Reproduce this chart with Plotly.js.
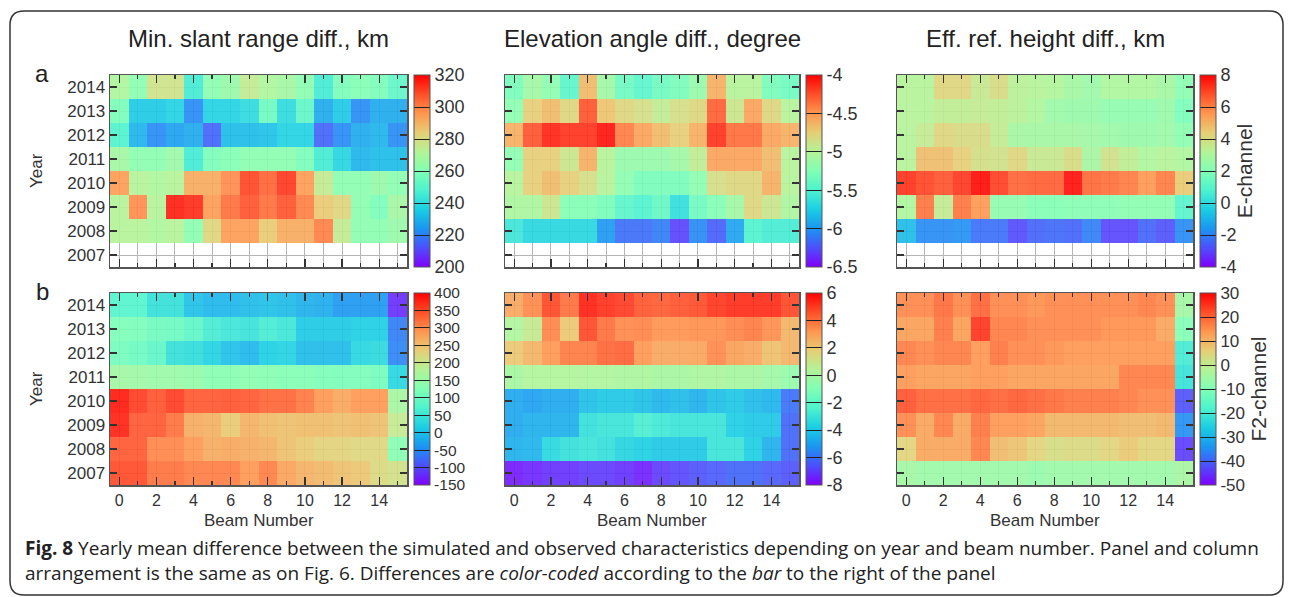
<!DOCTYPE html>
<html><head><meta charset="utf-8">
<script src="https://cdn.plot.ly/plotly-3.0.1.min.js"></script>
<style>html,body{margin:0;padding:0;background:#fff}#chart{width:1290px;height:597px}</style>
</head><body><div id="chart"></div>
<script>
// ---------- data ----------
const beams = [0,1,2,3,4,5,6,7,8,9,10,11,12,13,14,15];
const years = [2007,2008,2009,2010,2011,2012,2013,2014];
const beamTicks = [0,2,4,6,8,10,12,14];

const colTitles = ["Min. slant range diff., km", "Elevation angle diff., degree", "Eff. ref. height diff., km"];
const rowLabels = ["a", "b"];
const channelNames = ["E-channel", "F2-channel"];

// row a (E-channel), rows ordered 2007..2014
const slantE = [
  [null,null,null,null,null,null,null,null,null,null,null,null,null,null,null,null],
  [272,272,270,272,262,282,295,295,285,292,292,300,275,262,262,265],
  [272,298,272,316,314,295,303,308,303,308,300,285,282,262,258,268],
  [295,272,270,272,292,292,298,310,305,312,295,275,262,262,265,262],
  [268,262,262,266,245,258,260,262,262,262,258,245,238,230,232,232],
  [248,230,222,226,228,215,232,232,233,237,237,215,222,228,230,222],
  [258,235,235,237,222,237,237,240,255,240,252,228,235,222,228,228],
  [270,262,278,278,245,262,265,275,270,268,262,245,258,260,258,252]
];
const elevE = [
  [null,null,null,null,null,null,null,null,null,null,null,null,null,null,null,null],
  [-5.6,-5.7,-5.7,-5.7,-5.7,-6.0,-6.15,-6.15,-6.1,-6.3,-6.05,-6.2,-5.95,-5.5,-5.55,-5.55],
  [-5.05,-5.05,-4.9,-5.25,-5.25,-5.3,-5.45,-5.5,-5.4,-5.65,-5.35,-5.25,-5.1,-4.8,-4.9,-5.05],
  [-5.0,-4.75,-4.65,-4.75,-4.85,-5.0,-5.2,-5.3,-5.3,-5.3,-5.2,-4.85,-4.8,-4.8,-4.6,-5.0],
  [-5.2,-4.75,-4.75,-4.9,-4.6,-5.0,-5.15,-5.15,-5.15,-5.1,-4.95,-4.55,-4.55,-4.55,-4.65,-5.0],
  [-4.6,-4.25,-4.1,-4.15,-4.15,-4.05,-4.4,-4.55,-4.65,-4.75,-4.6,-4.15,-4.35,-4.35,-4.55,-4.6],
  [-5.2,-4.75,-4.65,-4.8,-4.25,-4.7,-4.8,-4.85,-4.95,-4.85,-4.8,-4.3,-4.9,-4.55,-4.8,-5.0],
  [-5.3,-5.1,-5.2,-5.45,-4.65,-5.1,-5.35,-5.45,-5.35,-5.3,-5.15,-4.6,-5.0,-5.0,-5.3,-5.35]
];
const heightE = [
  [null,null,null,null,null,null,null,null,null,null,null,null,null,null,null,null],
  [-0.8,-1.8,-1.8,-1.7,-2.3,-2.3,-2.9,-2.5,-2.4,-2.5,-2.0,-3.0,-3.0,-2.5,-2.8,-1.8],
  [3.0,6.2,3.5,6.2,5.6,2.3,2.3,2.0,2.0,2.1,2.1,2.1,2.2,2.2,2.2,1.0],
  [7.3,7.0,6.8,7.2,7.9,7.1,6.5,6.6,6.6,7.8,6.4,6.3,6.1,5.6,6.1,4.5],
  [3.2,4.8,4.8,4.4,3.9,3.8,4.2,3.6,3.6,4.0,2.9,3.8,3.4,3.0,3.2,3.0],
  [3.2,3.5,4.2,4.0,4.0,3.5,2.8,2.8,2.8,2.8,2.7,2.6,2.5,2.5,2.6,2.2],
  [3.2,3.2,3.4,3.4,3.5,3.4,3.3,3.0,2.6,2.5,2.5,2.3,2.3,2.3,2.5,1.8],
  [3.2,3.2,4.2,4.2,3.6,4.0,3.3,3.2,3.1,2.8,2.6,3.0,3.0,3.0,2.8,2.2]
];
// row b (F2-channel)
const slantF2 = [
  [350,350,320,320,310,310,310,290,310,280,265,260,250,245,220,210],
  [340,340,305,305,290,270,275,270,265,250,240,230,230,225,225,130],
  [380,340,340,320,270,265,240,265,255,250,255,255,250,255,250,195],
  [385,360,345,360,340,340,345,340,330,330,315,290,275,290,290,165],
  [160,155,150,150,145,130,130,135,130,125,125,120,115,115,110,25],
  [110,100,85,40,35,20,0,-10,15,20,-5,-5,-5,25,30,-55],
  [120,115,105,100,85,60,50,45,60,50,10,10,10,15,15,-60],
  [75,75,40,40,0,-10,-10,-5,0,-5,-15,-20,-40,-40,-40,-120]
];
const elevF2 = [
  [-7.6,-7.4,-7.2,-7.2,-7.0,-7.0,-7.2,-7.5,-7.0,-6.8,-6.6,-6.4,-6.2,-6.2,-6.4,-6.6],
  [-4.6,-4.5,-3.5,-3.2,-3.0,-3.2,-3.6,-3.8,-4.0,-4.0,-4.0,-3.0,-3.0,-3.8,-4.6,-6.2],
  [-4.8,-4.6,-4.6,-4.6,-3.2,-3.0,-3.0,-2.6,-2.8,-3.0,-3.0,-3.0,-3.8,-4.0,-4.0,-6.2],
  [-4.8,-5.0,-4.8,-4.8,-4.2,-4.0,-4.0,-4.2,-4.5,-4.3,-4.6,-4.2,-4.0,-4.3,-4.5,-6.0],
  [0.0,0.3,0.3,0.3,0.2,0.2,0.1,0.1,0.0,0.0,0.1,0.1,0.0,0.0,-0.2,-0.5],
  [2.0,2.5,3.2,3.8,3.8,4.2,4.3,3.2,2.8,2.8,2.9,3.5,3.0,2.8,2.2,2.5],
  [0.2,0.8,3.6,2.0,4.8,4.0,3.5,3.6,3.3,3.3,3.4,3.4,3.6,3.8,3.4,2.5],
  [2.8,3.5,4.8,4.0,5.5,5.2,5.0,4.5,4.4,4.6,4.7,5.1,5.3,5.3,5.3,4.8]
];
const heightF2 = [
  [-5,-6,-6,-6,-6,-6,-6,-7,-6,-6,-6,-6,-6,-6,-6,-4],
  [5,12,12,12,17,9,8,5,3,4,4,5,7,5,5,-44],
  [16,12,17,12,18,14,14,13,10,10,10,10,9,9,10,-35],
  [22,20,20,20,21,20,21,20,19,18,18,18,17,16,16,-42],
  [14,13,13,13,14,14,13,13,13,13,13,13,17,17,17,-22],
  [17,16,17,17,14,18,16,16,15,14,14,14,14,14,14,-20],
  [13,13,18,13,25,17,17,16,16,16,16,15,15,15,12,-10],
  [16,16,19,16,20,16,16,15,16,16,16,16,16,17,16,-5]
];

// colour-bar ticks
const ticksSlantE = [200,220,240,260,280,300,320];
const ticksElevE = [-6.5,-6,-5.5,-5,-4.5,-4];
const ticksHeightE = [-4,-2,0,2,4,6,8];
const ticksSlantF2 = [-150,-100,-50,0,50,100,150,200,250,300,350,400];
const ticksElevF2 = [-8,-6,-4,-2,0,2,4,6];
const ticksHeightF2 = [-50,-40,-30,-20,-10,0,10,20,30];

const captionLine1 = "<b>Fig. 8</b> Yearly mean difference between the simulated and observed characteristics depending on year and beam number. Panel and column";
const captionLine2 = "arrangement is the same as on Fig. 6. Differences are <i>color-coded</i> according to the <i>bar</i> to the right of the panel";

// ---------- styling ----------
const W = 1290, H = 597;
const fx = p => p / W, fy = p => 1 - p / H;
const colsPx = [[110,407],[505,799],[897,1193]];
const rowsPx = [[75,267],[293,485]];
const FONT = "Liberation Sans, Arial, sans-serif";
const TXT = "#333";

const rainbow = [
  [0.0,"rgb(128,0,255)"],[0.1,"rgb(77,79,252)"],[0.2,"rgb(26,150,242)"],
  [0.3,"rgb(26,206,227)"],[0.4,"rgb(77,243,206)"],[0.5,"rgb(128,255,180)"],
  [0.6,"rgb(179,243,150)"],[0.7,"rgb(230,206,116)"],[0.8,"rgb(255,150,79)"],
  [0.9,"rgb(255,79,40)"],[1.0,"rgb(255,0,0)"]
];

const panels = [
  {z: slantE,  ticks: ticksSlantE,  r:0, c:0, fs:18},
  {z: elevE,   ticks: ticksElevE,   r:0, c:1, fs:18},
  {z: heightE, ticks: ticksHeightE, r:0, c:2, fs:18, title: channelNames[0]},
  {z: slantF2, ticks: ticksSlantF2, r:1, c:0, fs:15.5},
  {z: elevF2,  ticks: ticksElevF2,  r:1, c:1, fs:18},
  {z: heightF2,ticks: ticksHeightF2,r:1, c:2, fs:17, title: channelNames[1]}
];

const traces = [];
const layout = {
  width: W, height: H,
  margin: {l:0, r:0, t:0, b:0},
  paper_bgcolor: "#fff", plot_bgcolor: "#fff",
  font: {family: FONT, color: TXT, size: 16},
  showlegend: false,
  annotations: [], shapes: []
};

panels.forEach((p, i) => {
  const n = i === 0 ? "" : String(i + 1);
  const xs = colsPx[p.c], ys = rowsPx[p.r];
  const zmin = p.ticks[0], zmax = p.ticks[p.ticks.length - 1];
  traces.push({
    type: "heatmap", x: beams, y: years, z: p.z,
    xaxis: "x" + n, yaxis: "y" + n,
    zmin: zmin, zmax: zmax, colorscale: rainbow,
    opacity: 0.9, hoverinfo: "skip",
    colorbar: {
      x: fx(xs[1] + 7), xanchor: "left", xref: "paper",
      y: fy((ys[0] + ys[1]) / 2), yanchor: "middle", yref: "paper",
      len: (ys[1] - ys[0]) / H, lenmode: "fraction",
      thickness: 16, thicknessmode: "pixels", xpad: 0, ypad: 0,
      outlinewidth: 1, outlinecolor: "#555",
      ticks: "inside", ticklen: 16, tickcolor: "#222", tickwidth: 1,
      tickmode: "array", tickvals: p.ticks, ticktext: p.ticks.map(v => String(v)),
      tickfont: {family: FONT, size: p.fs, color: TXT},
      title: p.title ? {text: p.title, side: "right", font: {family: FONT, size: 21, color: TXT}} : {text: ""}
    }
  });
  layout["xaxis" + n] = {
    domain: [fx(xs[0]), fx(xs[1])], anchor: "y" + n,
    range: [-0.5, 15.5], tickmode: "array", tickvals: beamTicks,
    ticks: "inside", ticklen: 8, tickwidth: 1.3, tickcolor: "#333",
    minor: {tickmode: "array", tickvals: beams, ticks: "inside", ticklen: 4, tickcolor: "#333", showgrid: true, gridcolor: "#b5b5b5", gridwidth: 1},
    showline: true, linecolor: "#555", linewidth: 1.5, mirror: "ticks",
    showgrid: true, gridcolor: "#b5b5b5", gridwidth: 1, zeroline: false,
    showticklabels: p.r === 1, tickfont: {family: FONT, size: 16, color: TXT},
    fixedrange: true
  };
  layout["yaxis" + n] = {
    domain: [fy(ys[1]), fy(ys[0])], anchor: "x" + n,
    range: [2006.5, 2014.5], tickmode: "array", tickvals: years,
    ticks: "inside", ticklen: 7, tickwidth: 1.3, tickcolor: "#333",
    showline: true, linecolor: "#555", linewidth: 1.5, mirror: "ticks",
    showgrid: true, gridcolor: "#b5b5b5", gridwidth: 1, zeroline: false,
    showticklabels: p.c === 0, tickfont: {family: FONT, size: 17, color: TXT},
    fixedrange: true
  };
});

// column titles
colTitles.forEach((t, c) => {
  layout.annotations.push({text: t, x: fx((colsPx[c][0] + colsPx[c][1]) / 2), y: fy(38),
    xref: "paper", yref: "paper", xanchor: "center", yanchor: "middle", showarrow: false,
    font: {family: FONT, size: 24, color: "#222"}});
  layout.annotations.push({text: "Beam Number", x: fx((colsPx[c][0] + colsPx[c][1]) / 2), y: fy(520),
    xref: "paper", yref: "paper", xanchor: "center", yanchor: "middle", showarrow: false,
    font: {family: FONT, size: 17, color: TXT}});
});
rowLabels.forEach((t, r) => {
  layout.annotations.push({text: t, x: fx(42), y: fy(rowsPx[r][0] - 2), xref: "paper", yref: "paper",
    xanchor: "center", yanchor: "middle", showarrow: false, font: {family: FONT, size: 24, color: "#222"}});
  layout.annotations.push({text: "Year", x: fx(36), y: fy((rowsPx[r][0] + rowsPx[r][1]) / 2), xref: "paper", yref: "paper",
    xanchor: "center", yanchor: "middle", textangle: -90, showarrow: false, font: {family: FONT, size: 17, color: TXT}});
});
layout.annotations.push({text: captionLine1, x: fx(23), y: fy(548), xref: "paper", yref: "paper",
  xanchor: "left", yanchor: "middle", showarrow: false, align: "left",
  font: {family: "Open Sans, sans-serif", size: 19, color: "#222"}});
layout.annotations.push({text: captionLine2, x: fx(23), y: fy(573), xref: "paper", yref: "paper",
  xanchor: "left", yanchor: "middle", showarrow: false, align: "left",
  font: {family: "Open Sans, sans-serif", size: 19, color: "#222"}});

// rounded frame
(function(){
  const L = 10, T = 11, R = 1283, B = 595, rr = 14;
  const X = v => fx(v), Y = v => fy(v);
  const d = `M ${X(L+rr)},${Y(T)} L ${X(R-rr)},${Y(T)} Q ${X(R)},${Y(T)} ${X(R)},${Y(T+rr)} ` +
    `L ${X(R)},${Y(B-rr)} Q ${X(R)},${Y(B)} ${X(R-rr)},${Y(B)} L ${X(L+rr)},${Y(B)} ` +
    `Q ${X(L)},${Y(B)} ${X(L)},${Y(B-rr)} L ${X(L)},${Y(T+rr)} Q ${X(L)},${Y(T)} ${X(L+rr)},${Y(T)} Z`;
  layout.shapes.push({type: "path", xref: "paper", yref: "paper", path: d, line: {color: "#333", width: 1.5}, layer: "below"});
})();

Plotly.newPlot("chart", traces, layout, {staticPlot: true, displayModeBar: false});
</script>
</body></html>
